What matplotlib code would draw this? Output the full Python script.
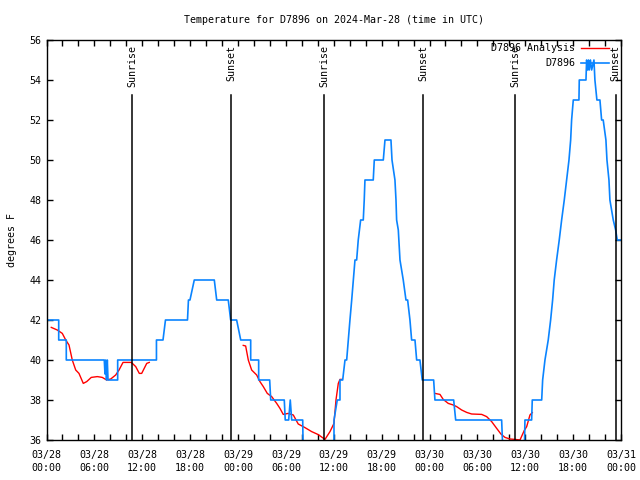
import matplotlib
matplotlib.use("Agg")
import matplotlib.pyplot as plt
import matplotlib.dates as mdates
import numpy as np
import pandas as pd

start = pd.Timestamp("2024-03-28 00:00")

# observed temperature (hours after start, deg F)
obs_hours = [0.0, 1.53, 1.53, 2.48, 2.48, 7.24, 7.33, 7.42, 7.52, 7.62, 7.71, 8.92, 8.92,
             13.78, 13.78, 14.60, 14.91, 17.67, 17.79, 17.98, 18.52, 21.03, 21.33, 22.78,
             23.08, 23.83, 24.34, 25.59, 25.59, 26.59, 26.59, 27.97, 28.10, 29.80, 29.92,
             30.35, 30.55, 30.73, 32.11, 32.18, 36.03, 36.03, 36.44, 36.78, 36.78, 37.12,
             37.41, 37.62, 37.82, 38.03, 38.25, 38.45, 38.66, 38.87, 39.07, 39.37, 39.70,
             39.82, 39.91, 40.95, 41.08, 42.21, 42.42, 43.17, 43.30, 43.67, 43.80, 43.88,
             44.09, 44.30, 44.51, 44.71, 45.05, 45.26, 45.55, 45.76, 46.18, 46.39, 46.80,
             47.09, 48.52, 48.68, 51.03, 51.28, 57.04, 57.24, 59.87, 59.96, 60.80, 60.88,
             62.06, 62.18, 62.47, 62.88, 63.18, 63.43, 63.63, 63.93, 64.26, 64.56, 64.89,
             65.19, 65.48, 65.69, 65.81, 66.02, 66.73, 66.77, 67.61, 67.69, 67.82, 67.92,
             68.02, 68.17, 68.32, 68.61, 68.73, 68.98, 69.36, 69.57, 69.77, 70.11, 70.24,
             70.49, 70.61, 71.03, 71.33, 71.53, 72.0]
obs_temp = [42, 42, 41, 41, 40, 40, 39.3, 40, 39, 40, 39, 39, 40,
            40, 41, 41, 42, 42, 43, 43, 44, 44, 43, 43,
            42, 42, 41, 41, 40, 40, 39, 39, 38, 38, 37,
            37, 38, 37, 37, 35, 35, 37, 38, 38, 39, 39,
            40, 40, 41, 42, 43, 44, 45, 45, 46, 47, 47,
            48, 49, 49, 50, 50, 51, 51, 50, 49, 48, 47,
            46.5, 45, 44.5, 44, 43, 43, 42, 41, 41, 40, 40,
            39, 39, 38, 38, 37, 37, 35, 35, 37, 37, 38,
            38, 39, 40, 41, 42, 43, 44, 45, 46, 47, 48,
            49, 50, 51, 52, 53, 53, 54, 54, 55, 54.5, 55,
            54.5, 55, 54.5, 55, 54, 53, 53, 52, 52, 51, 50,
            49, 48, 47, 46.5, 46, 46]

# analysis (hours after start, deg F); nan marks a gap
ana_hours = [0.60, 1.35, 1.98, 2.41, 2.82, 3.23, 3.66, 4.07, 4.61, 5.04, 5.61, 6.37, 6.99,
             7.54, 8.05, 8.67, 9.09, 9.59, 10.63, 11.18, 11.63, 11.93, 12.56, 12.88, np.nan,
             24.66, 24.96, 25.29, 25.71, 26.34, 26.75, 27.17, 27.67, 28.22, 28.85, 29.26,
             29.67, 30.30, 30.93, 31.55, 32.39, 33.23, 34.06, 34.90, 35.53, 36.03, 36.28,
             36.57, 36.78, 36.99, np.nan,
             48.68, 49.31, 49.72, 50.35, 50.98, 51.40, 52.03, 52.66, 53.28, 54.54, 55.16,
             55.79, 56.42, 56.95, 57.46, 58.08, 58.71, 59.34, 59.87, 60.18, 60.59, 60.88]
ana_temp = [41.63, 41.5, 41.33, 41.0, 40.75, 40.0, 39.5, 39.33, 38.83, 38.92, 39.13, 39.17, 39.13,
            39.0, 39.05, 39.25, 39.5, 39.88, 39.88, 39.67, 39.33, 39.33, 39.83, 39.88, np.nan,
            40.73, 40.7, 40.0, 39.5, 39.25, 38.92, 38.67, 38.33, 38.17, 37.83, 37.58,
            37.28, 37.33, 37.25, 36.8, 36.62, 36.42, 36.27, 36.03, 36.42, 36.83, 38.0,
            38.83, 39.03, 39.03, np.nan,
            38.33, 38.28, 38.03, 37.83, 37.75, 37.67, 37.5, 37.38, 37.3, 37.28, 37.17,
            36.92, 36.58, 36.3, 36.13, 36.05, 36.03, 36.0, 36.47, 36.67, 37.25, 37.37]

sun_hours = [10.75, 23.16, 34.81, 47.18, 58.77, 71.33]
sun_labels = ["Sunrise", "Sunset", "Sunrise", "Sunset", "Sunrise", "Sunset"]

plt.rcParams["font.family"] = "DejaVu Sans Mono"
plt.rcParams["font.size"] = 7.2

fig = plt.figure(figsize=(6.4, 4.8), dpi=100)
ax = fig.add_axes([46.5/640, 40/480, (621-46.5)/640, 400/480])

def to_time(h):
    h = np.asarray(h, dtype=float)
    return start + pd.to_timedelta(np.nan_to_num(h), unit="h")

ax.plot(to_time(ana_hours), np.array(ana_temp, dtype=float), color="#ff0000", lw=1,
        label="D7896 Analysis")
ax.plot(to_time(obs_hours), obs_temp, color="#0a84ff", lw=1.2, label="D7896")

for h, lab in zip(sun_hours, sun_labels):
    t = to_time([h])[0]
    ax.plot([t, t], [36, 36 + 20*0.8625], color="black", lw=1.1)
    ax.text(t, 36 + 20*0.9875, lab, rotation=90, ha="center", va="top")

ax.set_xlim(start, start + pd.Timedelta(hours=72))
ax.set_ylim(36, 56)
ax.set_yticks(np.arange(36, 57, 2))
ax.xaxis.set_major_locator(mdates.HourLocator(byhour=range(0, 24, 6)))
ax.xaxis.set_minor_locator(mdates.HourLocator(byhour=range(0, 24, 2)))
ax.xaxis.set_major_formatter(mdates.DateFormatter("%m/%d\n%H:%M"))
ax.tick_params(which="both", direction="in", top=True, right=True, length=4, width=1)
ax.tick_params(axis="x", pad=7)
for lbl in ax.get_xticklabels():
    lbl.set_linespacing(1.45)
for s in ax.spines.values():
    s.set_linewidth(1)

fig.text(333.75/640, 1 - 20/480, "Temperature for D7896 on 2024-Mar-28 (time in UTC)",
         ha="center", va="center")
ax.set_ylabel("degrees F", labelpad=9)
fig.legend(loc="upper right", bbox_to_anchor=(609/640, 1 - 43/480), markerfirst=False,
           frameon=False, borderpad=0, borderaxespad=0, handlelength=2.8,
           labelspacing=0.55, handletextpad=0.6)

fig.savefig("out.png", dpi=100)
